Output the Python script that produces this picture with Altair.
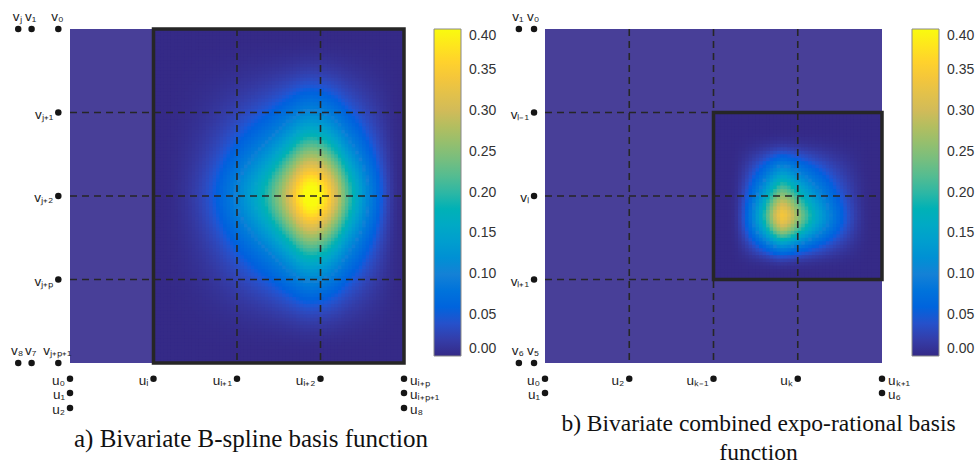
import altair as alt
import pandas as pd

# ---------------- colour bar ----------------
BAR_TICKS = [0.00, 0.05, 0.10, 0.15, 0.20, 0.25, 0.30, 0.35, 0.40]
PARULA = ["#352a87", "#0f5cdd", "#1481d6", "#06a4ca", "#2eb7a4",
          "#87bf77", "#d1bb59", "#fec832", "#f9fb0e"]

STEP = 1 / 24  # grid step (knot-interval units)

# ---------------- panel a: B-spline ----------------
A_SUPPORT = [1.0, 4.0, 0.0, 4.0]          # u0, u1, v0, v1 of the support box
A_PEAK = 0.415
A_U_PROFILE = [0, 0, 0, 0.001, 0.003, 0.006, 0.01, 0.015, 0.021, 0.028, 0.036, 0.045,
               0.055, 0.066, 0.078, 0.092, 0.106, 0.122, 0.138, 0.156, 0.175, 0.195,
               0.215, 0.237, 0.26, 0.283, 0.306, 0.33, 0.355, 0.38, 0.41, 0.44,
               0.47, 0.505, 0.545, 0.585, 0.625, 0.675, 0.725, 0.775, 0.83, 0.89,
               0.93, 0.97, 0.99, 1.0, 0.99, 0.965, 0.94, 0.90, 0.85, 0.79,
               0.735, 0.67, 0.60, 0.54, 0.485, 0.435, 0.39, 0.345, 0.30, 0.26,
               0.225, 0.19, 0.155, 0.12, 0.09, 0.06, 0.035, 0.015, 0.004, 0]
A_V_PROFILE = [0, 0, 0, 0.001, 0.003, 0.006, 0.01, 0.015, 0.021, 0.028, 0.036, 0.045,
               0.056, 0.068, 0.081, 0.095, 0.11, 0.126, 0.143, 0.161, 0.18, 0.20, 0.222, 0.245,
               0.27, 0.295, 0.32, 0.347, 0.375, 0.405, 0.437, 0.47, 0.505, 0.54, 0.577, 0.615,
               0.655, 0.695, 0.735, 0.775, 0.815, 0.853, 0.89, 0.922, 0.95, 0.972, 0.988, 0.998,
               0.998, 0.988, 0.972, 0.95, 0.922, 0.89, 0.853, 0.815, 0.775, 0.735, 0.695, 0.655,
               0.615, 0.577, 0.54, 0.505, 0.47, 0.437, 0.405, 0.375, 0.347, 0.32, 0.295, 0.27,
               0.245, 0.222, 0.20, 0.18, 0.161, 0.143, 0.126, 0.11, 0.095, 0.081, 0.068, 0.056,
               0.045, 0.036, 0.028, 0.021, 0.015, 0.01, 0.006, 0.003, 0.001, 0, 0, 0]
A_DASH_U = [2, 3]
A_DASH_V = [1, 2, 3]
A_KNOT_TEXT = ["vⱼ", "v₁", "v₀", "vⱼ₊₁", "vⱼ₊₂", "vⱼ₊ₚ", "v₈", "v₇", "vⱼ₊ₚ₊₁",
               "u₀", "u₁", "u₂", "uᵢ", "uᵢ₊₁", "uᵢ₊₂", "uᵢ₊ₚ", "uᵢ₊ₚ₊₁", "u₈"]
A_KNOT_U = [-0.62, -0.46, -0.14, -0.14, -0.14, -0.14, -0.62, -0.46, -0.14,
            0, 0, 0, 1, 2, 3, 4, 4, 4]
A_KNOT_V = [0, 0, 0, 1, 2, 3, 4, 4, 4,
            4.19, 4.36, 4.54, 4.19, 4.19, 4.19, 4.19, 4.36, 4.54]
A_KNOT_SIDE = ["top", "top", "top", "left", "left", "left", "top", "top", "top",
               "left", "left", "left", "left", "left", "left", "right", "right", "right"]
A_TITLE = "a) Bivariate B-spline basis function"

# ---------------- panel b: expo-rational ----------------
B_SUPPORT = [2.0, 4.0, 1.0, 3.0]
B_PEAK = 0.34
B_U_PROFILE = [0, 0, 0, 0, 0.002, 0.01, 0.03, 0.07, 0.12, 0.18, 0.25, 0.32,
               0.40, 0.48, 0.57, 0.67, 0.77, 0.87, 0.95, 1.0, 0.98, 0.93, 0.87, 0.80,
               0.735, 0.675, 0.615, 0.56, 0.505, 0.455, 0.41, 0.365, 0.32, 0.28, 0.24, 0.205,
               0.17, 0.14, 0.11, 0.085, 0.06, 0.04, 0.022, 0.01, 0.003, 0, 0, 0]
B_V_PROFILE = [0, 0, 0, 0, 0, 0.002, 0.006, 0.016, 0.03, 0.05, 0.08, 0.12,
               0.16, 0.20, 0.255, 0.305, 0.355, 0.405, 0.46, 0.515, 0.57, 0.625, 0.68, 0.735,
               0.79, 0.845, 0.895, 0.94, 0.98, 1.0, 0.985, 0.95, 0.89, 0.82, 0.73, 0.63,
               0.53, 0.43, 0.34, 0.26, 0.19, 0.12, 0.07, 0.035, 0.015, 0.004, 0, 0]
B_DASH_U = [1, 2, 3]
B_DASH_V = [1, 2, 3]
B_KNOT_TEXT = ["v₁", "v₀", "vₗ₋₁", "vₗ", "vₗ₊₁", "v₆", "v₅",
               "u₀", "u₁", "u₂", "uₖ₋₁", "uₖ", "uₖ₊₁", "u₆"]
B_KNOT_U = [-0.31, -0.13, -0.13, -0.13, -0.13, -0.31, -0.13,
            0, 0, 1, 2, 3, 4, 4]
B_KNOT_V = [0, 0, 1, 2, 3, 4, 4,
            4.19, 4.36, 4.19, 4.19, 4.19, 4.19, 4.36]
B_KNOT_SIDE = ["top", "top", "left", "left", "left", "top", "top",
               "left", "left", "left", "left", "left", "right", "right"]
B_TITLE = ["b) Bivariate combined expo-rational basis", "function"]

OUTSIDE_FILL = "#483f98"
INK = "#262626"
LABEL_FONT = "Liberation Sans"
SEAM = 0.012  # slight cell overlap so no hairline seams appear between cells


def heat_table(support, u_prof, v_prof, peak):
    rows = []
    for i, fu in enumerate(u_prof):
        for j, fv in enumerate(v_prof):
            rows.append(dict(u0=support[0] + i * STEP, u1=support[0] + (i + 1) * STEP + SEAM,
                             v0=support[2] + j * STEP, v1=support[2] + (j + 1) * STEP + SEAM,
                             val=round(peak * fu * fv, 5)))
    return pd.DataFrame(rows)


def xs(field):
    return alt.X(field, type="quantitative",
                 scale=alt.Scale(domain=[0, 4], nice=False, zero=False), axis=None)


def ys(field):
    return alt.Y(field, type="quantitative",
                 scale=alt.Scale(domain=[0, 4], nice=False, zero=False, reverse=True),
                 axis=None)


def panel(support, u_prof, v_prof, peak, dash_u, dash_v, ktext, ku, kv, kside,
          title, width, title_dx, title_size):
    cscale = alt.Scale(domain=BAR_TICKS, range=PARULA, clamp=True)
    bg = alt.Chart(pd.DataFrame({"u0": [0], "u1": [4], "v0": [0], "v1": [4]})).mark_rect(
        fill=OUTSIDE_FILL).encode(x=xs("u0"), x2="u1", y=ys("v0"), y2="v1")
    heat = alt.Chart(heat_table(support, u_prof, v_prof, peak)).mark_rect(
        strokeWidth=0).encode(
        x=xs("u0"), x2="u1", y=ys("v0"), y2="v1",
        color=alt.Color("val:Q", scale=cscale,
                        legend=alt.Legend(type="gradient", values=BAR_TICKS, format=".2f",
                                          gradientLength=327, gradientThickness=27,
                                          offset=30, title=None, labelFont=LABEL_FONT,
                                          labelFontSize=14, labelColor="#333",
                                          labelOffset=8, gradientStrokeColor="#8a8a8a",
                                          gradientStrokeWidth=1, labelOverlap=False,
                                          direction="vertical", orient="right")))
    vdash = alt.Chart(pd.DataFrame({"u": dash_u, "v0": 0, "v1": 4})).mark_rule(
        color=INK, strokeWidth=1.6, strokeDash=[7, 5]).encode(x=xs("u"), y=ys("v0"), y2="v1")
    hdash = alt.Chart(pd.DataFrame({"v": dash_v, "u0": 0, "u1": 4})).mark_rule(
        color=INK, strokeWidth=1.6, strokeDash=[7, 5]).encode(y=ys("v"), x=xs("u0"), x2="u1")
    frame = alt.Chart(pd.DataFrame({"u0": [support[0]], "u1": [support[1]],
                                    "v0": [support[2]], "v1": [support[3]]})).mark_rect(
        filled=False, stroke=INK, strokeWidth=3.5).encode(
        x=xs("u0"), x2="u1", y=ys("v0"), y2="v1")
    kdf = pd.DataFrame({"t": ktext, "u": ku, "v": kv, "side": kside})
    kbase = alt.Chart(kdf)
    dots = kbase.mark_circle(size=42, color="#151515", opacity=1).encode(x=xs("u"), y=ys("v"))
    tstyle = dict(font=LABEL_FONT, fontSize=13.5, color="#222")
    t_top = kbase.transform_filter(alt.datum.side == "top").mark_text(
        align="center", baseline="alphabetic", dy=-8, dx=-1, **tstyle).encode(
        x=xs("u"), y=ys("v"), text="t")
    t_left = kbase.transform_filter(alt.datum.side == "left").mark_text(
        align="right", baseline="middle", dx=-5, dy=2, **tstyle).encode(
        x=xs("u"), y=ys("v"), text="t")
    t_right = kbase.transform_filter(alt.datum.side == "right").mark_text(
        align="left", baseline="middle", dx=6, dy=2, **tstyle).encode(
        x=xs("u"), y=ys("v"), text="t")
    return alt.layer(bg, heat, hdash, vdash, frame, dots, t_top, t_left, t_right).properties(
        width=width, height=334,
        title=alt.TitleParams(text=title, orient="bottom", font="Liberation Serif",
                              fontSize=title_size, fontWeight="normal", color="#111",
                              offset=10, anchor="middle", lineHeight=29, dx=title_dx))


pa = panel(A_SUPPORT, A_U_PROFILE, A_V_PROFILE, A_PEAK, A_DASH_U, A_DASH_V,
           A_KNOT_TEXT, A_KNOT_U, A_KNOT_V, A_KNOT_SIDE, A_TITLE, 334, 14, 25)
pb = panel(B_SUPPORT, B_U_PROFILE, B_V_PROFILE, B_PEAK, B_DASH_U, B_DASH_V,
           B_KNOT_TEXT, B_KNOT_U, B_KNOT_V, B_KNOT_SIDE, B_TITLE, 337, 45, 23.5)

chart = alt.hconcat(pa, pb, spacing=13).resolve_scale(
    color="independent").configure_view(strokeWidth=0).properties(
    padding={"left": 11, "top": 10, "right": 0, "bottom": 0}, background="white")

chart.save("out.html", embed_options={"renderer": "svg", "actions": False})
